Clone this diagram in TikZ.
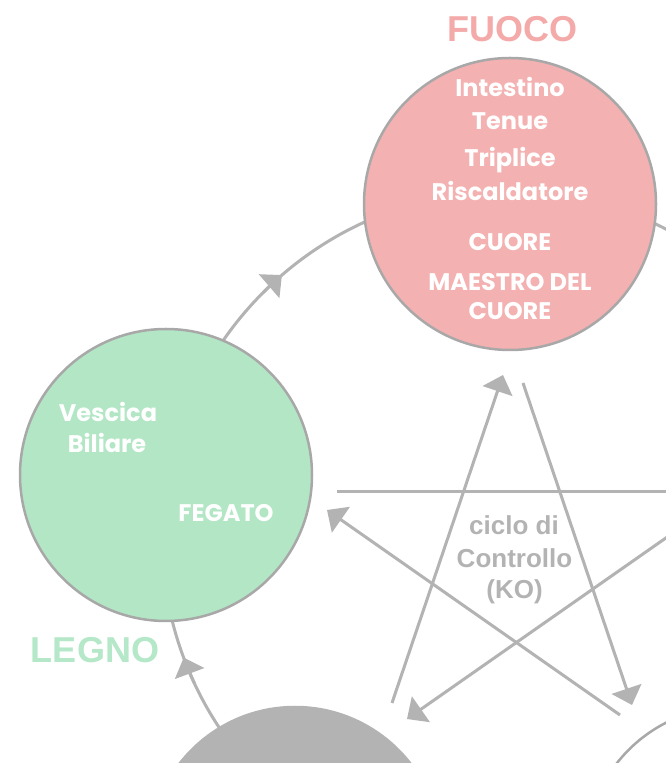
\documentclass[tikz,border=0pt]{standalone}
\usepackage{fontspec}
\setmainfont{Liberation Sans}
\newfontfamily\geo{Poppins}
\usetikzlibrary{arrows.meta}
\definecolor{firefill}{HTML}{F4B1B1}
\definecolor{firetext}{HTML}{F5AAAA}
\definecolor{woodfill}{HTML}{B3E6C5}
\definecolor{woodtext}{HTML}{B5E8C8}
\definecolor{ringgrey}{HTML}{B3B3B3}
\definecolor{edgegrey}{HTML}{A8A8A8}
\tikzset{
  element/.style={circle, draw=edgegrey, line width=2.5pt, minimum size=292pt, inner sep=0pt},
  organ/.style={text=white, anchor=base, inner sep=0pt, font=\geo\bfseries\fontsize{24}{24}\selectfont},
  title/.style={anchor=base, inner sep=0pt, font=\bfseries\fontsize{36}{36}\selectfont},
  ko/.style={-{Triangle[length=17pt,width=31pt]}, draw=ringgrey, line width=3pt},
  ring/.style={draw=ringgrey, line width=3pt},
  ringarrow/.style={draw=ringgrey, line width=3pt, -{Triangle[length=17pt,width=31pt]}},
  kolabel/.style={text=ringgrey, anchor=base, inner sep=0pt, font=\bfseries\fontsize{26}{26}\selectfont}
}
\begin{document}
\begin{tikzpicture}[x=1pt,y=1pt]
\useasboundingbox (0,0) rectangle (666,763);
\clip (0,0) rectangle (666,763);
\fill[white] (0,0) rectangle (666,763);
% generation cycle ring
\coordinate (O) at (508,226);
\draw[ring] (O) circle (346);
\draw[ringarrow] (O) ++(135:346) arc[start angle=135, end angle=130.8, radius=346];
\draw[ringarrow] (O) ++(205:346) arc[start angle=205, end angle=200.4, radius=346];
% control cycle (star)
\coordinate (waterKO) at (392,60);
\coordinate (fireKOin) at (503,388);
\coordinate (fireKOout) at (523,380);
\coordinate (metalKOin) at (632,58);
\coordinate (metalKOout) at (620,48);
\coordinate (woodKOin) at (327,253);
\coordinate (woodKOout) at (337,271);
\coordinate (earthKOin) at (720,271);
\coordinate (earthKOout) at (693,244);
\coordinate (waterKOin) at (407,44);
\draw[ko] (waterKO) -- (fireKOin);
\draw[ko] (fireKOout) -- (metalKOin);
\draw[ring] (woodKOout) -- (earthKOin);
\draw[ko] (earthKOout) -- (waterKOin);
\draw[ko] (metalKOout) -- (woodKOin);
% elements
\node[element, fill=firefill] (fire) at (510,559) {};
\node[element, fill=woodfill] (wood) at (166,288) {};
\node[element, fill=ringgrey, draw=ringgrey] (water) at (295,-90) {};
\node[element, fill=white] (metal) at (732,-90) {};
% titles
\node[title, text=firetext] (fuoco) at (512.5,721.5) {FUOCO};
\node[title, text=woodtext] (legno) at (95,100) {LEGNO};
% fire organs
\node[organ] (f1) at (510,666) {Intestino};
\node[organ] (f2) at (510,633) {Tenue};
\node[organ] (f3) at (510,596) {Triplice};
\node[organ] (f4) at (510,562) {Riscaldatore};
\node[organ] (f5) at (510,512) {CUORE};
\node[organ] (f6) at (510,472) {MAESTRO DEL};
\node[organ] (f7) at (510,443) {CUORE};
% wood organs
\node[organ] (w1) at (108,341) {Vescica};
\node[organ] (w2) at (107,310) {Biliare};
\node[organ] (w3) at (226,241) {FEGATO};
% control label
\node[kolabel] (k1) at (514,228) {ciclo di};
\node[kolabel] (k2) at (514.5,195) {Controllo};
\node[kolabel] (k3) at (514.5,164) {(KO)};
\end{tikzpicture}
\end{document}
